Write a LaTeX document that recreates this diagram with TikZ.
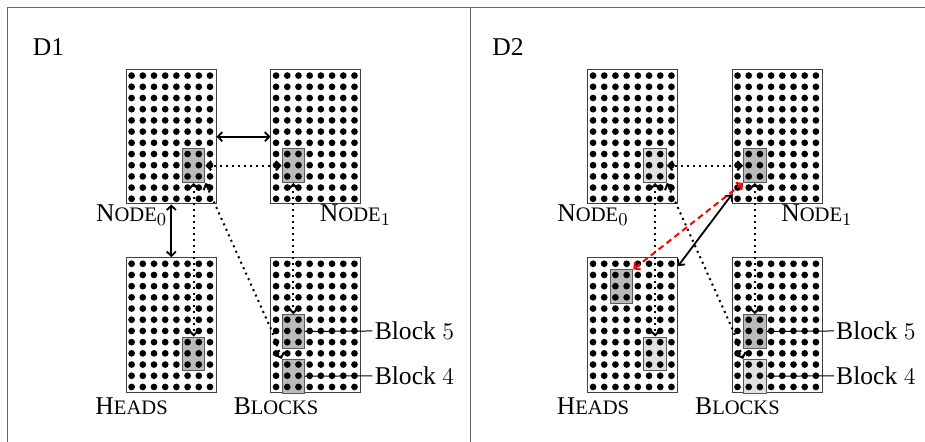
\documentclass[tikz,border=0pt]{standalone}
\usepackage{fontspec}
\setmainfont{Liberation Serif}
\usetikzlibrary{arrows.meta}
\newcommand{\smcap}[2]{#1{\fontsize{10.3}{12}\selectfont #2}}

\begin{document}
\begin{tikzpicture}[x=5.6pt,y=5.6pt,
  font=\fontsize{12.8}{15}\selectfont,
  >={Straight Barb[length=2.2pt, width=4.6pt]},
  memory/.style={draw=black!75, line width=0.5pt, minimum width=44.8pt,
    minimum height=67.2pt, inner sep=0pt, anchor=south west},
  chunk/.style={draw=black!65, line width=0.5pt, fill=black!27,
    minimum width=11.2pt, minimum height=16.8pt, inner sep=0pt, anchor=north west},
  chunklight/.style={chunk, fill=black!12},
  caption/.style={anchor=north, inner sep=0pt},
  link/.style={<->, line width=0.9pt},
  dotlink/.style={<->, line width=1pt, dotted},
  redlink/.style={<->, red, line width=1pt, dash pattern=on 3pt off 2pt}]

  \useasboundingbox (-11.25,-21.21) rectangle (71.34,18.25);

  %draw frame
  \draw[black!60, line width=0.4pt] (-10.63,-21.21) -- (-10.63,17.63) -- (71.34,17.63);
  \draw[black!60, line width=0.4pt] (30.76,-21.21) -- (30.76,17.63);

  \node (d1) at (-6.92,14.05) {D1};
  \node (d2) at (34.1,14.05) {D2};

  %draw memories
  \foreach \dx/\p in {0/a, 41.2/b} {
    \node[memory] (node0\p) at (\dx,0) {};
    \node[memory] (node1\p) at (\dx+12.9,0) {};
    \node[memory] (heads\p) at (\dx,-16.8) {};
    \node[memory] (blocks\p) at (\dx+12.9,-16.8) {};
  }

  %draw chunks
  \node[chunk] (g0a) at (5,5) {};
  \node[chunk] (g1a) at (13.9,5) {};
  \node[chunk] (gha) at (5,-11.8) {};
  \node[chunk] (b5a) at (13.9,-9.8) {};
  \node[chunk] (b4a) at (13.9,-13.8) {};

  \node[chunklight] (g0b) at (46.2,5) {};
  \node[chunk] (g1b) at (55.1,5) {};
  \node[chunklight] (ghb) at (46.2,-11.8) {};
  \node[chunk] (gxb) at (43.2,-5.8) {};
  \node[chunk] (b5b) at (55.1,-9.8) {};
  \node[chunklight] (b4b) at (55.1,-13.8) {};

  %draw dots
  \foreach \bx/\by in {0/0, 12.9/0, 0/-16.8, 12.9/-16.8, 41.2/0, 54.1/0, 41.2/-16.8, 54.1/-16.8}
    \foreach \i in {0,...,7}
      \foreach \j in {0,...,11}
        \fill (\bx+\i+0.5,\by+\j+0.5) circle (0.3);

  %draw names
  \foreach \p in {a,b} {
    \node[caption] (lab0\p) at ([xshift=2.8pt]node0\p.south west) {\smcap{N}{ODE}$_0$};
    \node[caption] (lab1\p) at ([xshift=-2.8pt]node1\p.south east) {\smcap{N}{ODE}$_1$};
    \node[caption, yshift=-2.5pt] (labh\p) at ([xshift=2.8pt]heads\p.south west) {\smcap{H}{EADS}};
    \node[caption, yshift=-2.5pt] (labb\p) at ([xshift=2.8pt]blocks\p.south west) {\smcap{B}{LOCKS}};
  }

  %draw block labels
  \node[anchor=west, inner sep=1pt] (l5a) at (22,-11.3) {Block $5$};
  \node[anchor=west, inner sep=1pt] (l4a) at (22,-15.3) {Block $4$};
  \node[anchor=west, inner sep=1pt] (l5b) at (63.2,-11.3) {Block $5$};
  \node[anchor=west, inner sep=1pt] (l4b) at (63.2,-15.3) {Block $4$};
  \draw[line width=0.5pt] (b5a.east) -- (l5a.west);
  \draw[line width=0.5pt] (b4a.east) -- (l4a.west);
  \draw[line width=0.5pt] (b5b.east) -- (l5b.west);
  \draw[line width=0.5pt] (b4b.east) -- (l4b.west);

  %draw arrows D1
  \draw[link] (node0a.east) -- (node1a.west);
  \draw[link] (node0a.south) -- (headsa.north);
  \draw[dotlink] (g0a.east) -- (g1a.west);
  \draw[dotlink] (g0a.south) -- (gha.north);
  \draw[dotlink] (g1a.south) -- (b5a.north);
  \draw[dotlink] (g0a.south east) -- ([xshift=-4.8pt]b5a.west) -- (b4a.north west);

  %draw arrows D2
  \draw[dotlink] (g0b.east) -- (g1b.west);
  \draw[dotlink] (g0b.south) -- (ghb.north);
  \draw[dotlink] (g1b.south) -- (b5b.north);
  \draw[dotlink] (g0b.south east) -- ([xshift=-4.8pt]b5b.west) -- (b4b.north west);
  \draw[link] ([yshift=-4.5pt]headsb.north east) -- ([yshift=5pt]node1b.south west);
  \draw[redlink] (gxb.north east) -- (g1b.south west);
\end{tikzpicture}
\end{document}
